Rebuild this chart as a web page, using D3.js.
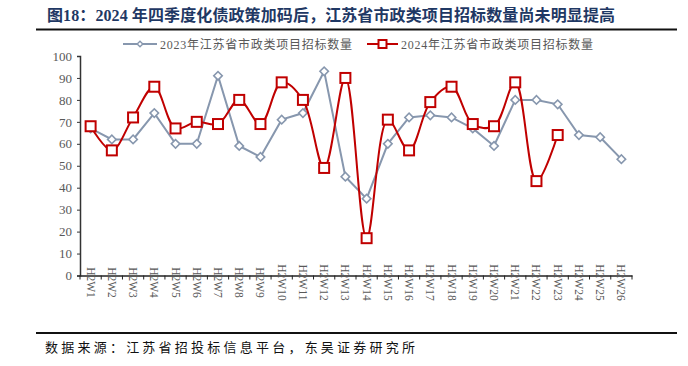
<!DOCTYPE html>
<html>
<head>
<meta charset="utf-8">
<script src="https://cdn.jsdelivr.net/npm/d3@7"></script>
<style>
  html, body { margin: 0; padding: 0; background: #fff; }
  svg { display: block; }
  .cjk { font-family: "Liberation Serif", "Noto Sans CJK SC", serif; }
</style>
</head>
<body>
<div id="chart"></div>
<script>
// Weekly counts
const weeks = ["H2W1", "H2W2", "H2W3", "H2W4", "H2W5", "H2W6", "H2W7", "H2W8", "H2W9",
  "H2W10", "H2W11", "H2W12", "H2W13", "H2W14", "H2W15", "H2W16", "H2W17", "H2W18",
  "H2W19", "H2W20", "H2W21", "H2W22", "H2W23", "H2W24", "H2W25", "H2W26"];
const values2023 = [67, 62, 62, 74, 60, 60, 91, 59, 54, 71, 74, 93, 45, 35, 60, 72, 73, 72, 67, 59, 80, 80, 78, 64, 63, 53];
const values2024 = [68, 57, 72, 86, 67, 70, 69, 80, 69, 88, 80, 49, 90, 17, 71, 57, 79, 86, 69, 68, 88, 43, 64];
const yTicks = [0, 10, 20, 30, 40, 50, 60, 70, 80, 90, 100];
const seriesNames = ["2023年江苏省市政类项目招标数量", "2024年江苏省市政类项目招标数量"];
const titleText = "图18：2024 年四季度化债政策加码后，江苏省市政类项目招标数量尚未明显提高";
const sourceText = "数据来源：江苏省招投标信息平台，东吴证券研究所";

const W = 688, H = 366;
const grey = "#8797AE", red = "#C00000", labelColor = "#595959";

const svg = d3.select("#chart").append("svg")
  .attr("width", W).attr("height", H);

// Title and rules
svg.append("text")
  .attr("class", "cjk")
  .attr("x", 47).attr("y", 21)
  .attr("font-size", 16).attr("font-weight", "bold")
  .attr("fill", "#1F3864")
  .attr("textLength", 568).attr("lengthAdjust", "spacing")
  .text(titleText);

svg.append("line").attr("x1", 36).attr("x2", 677).attr("y1", 29.5).attr("y2", 29.5)
  .attr("stroke", "#111").attr("stroke-width", 2);
svg.append("line").attr("x1", 36).attr("x2", 677).attr("y1", 333).attr("y2", 333)
  .attr("stroke", "#111").attr("stroke-width", 2);

svg.append("text")
  .attr("class", "cjk")
  .attr("x", 45).attr("y", 352)
  .attr("font-size", 13).attr("fill", "#111")
  .attr("textLength", 370).attr("lengthAdjust", "spacing")
  .text(sourceText);

// Scales
const x = d3.scaleBand().domain(weeks).range([80, 632]);
const y = d3.scaleLinear().domain([0, 100]).range([275.5, 56]);
const cx = (d, i) => x(weeks[i]) + x.bandwidth() / 2;

// Y axis
const yAxis = svg.append("g")
  .attr("transform", "translate(80,0)")
  .call(d3.axisLeft(y).tickValues(yTicks).tickSize(3).tickPadding(5));
yAxis.select(".domain").attr("stroke", "#333").attr("stroke-width", 1.5);
yAxis.selectAll(".tick line").attr("stroke", "#333");
yAxis.selectAll(".tick text")
  .attr("fill", labelColor)
  .attr("font-family", "Liberation Serif, serif")
  .attr("font-size", 13);

// X axis: ticks on band edges
const xAxis = svg.append("g")
  .attr("transform", `translate(0,${y(0)})`)
  .call(d3.axisBottom(x).tickSize(0).tickFormat(""));
xAxis.select(".domain").attr("stroke", "#222").attr("stroke-width", 1.5);
xAxis.selectAll(".edge")
  .data(d3.range(weeks.length + 1))
  .enter().append("line")
  .attr("x1", (i) => 80 + i * x.step())
  .attr("x2", (i) => 80 + i * x.step())
  .attr("y1", 0).attr("y2", 4)
  .attr("stroke", "#222");
xAxis.selectAll(".wk")
  .data(weeks)
  .enter().append("text")
  .attr("transform", (d) => `translate(${x(d) + x.bandwidth() / 2 - 4},7) rotate(90)`)
  .attr("font-family", "Liberation Serif, serif")
  .attr("font-size", 11.5)
  .attr("fill", labelColor)
  .text((d) => d);

// 2023 series: straight grey line with diamonds
svg.append("path")
  .datum(values2023)
  .attr("fill", "none").attr("stroke", grey).attr("stroke-width", 2)
  .attr("d", d3.line().x(cx).y((d) => y(d)));

const diamond = d3.symbol().type(d3.symbolSquare).size(36);
svg.selectAll(".m23")
  .data(values2023)
  .enter().append("path")
  .attr("d", diamond)
  .attr("transform", (d, i) => `translate(${cx(d, i)},${y(d)}) rotate(45)`)
  .attr("fill", "#fff").attr("stroke", grey).attr("stroke-width", 1.6);

// 2024 series: smoothed red line with squares
svg.append("path")
  .datum(values2024)
  .attr("fill", "none").attr("stroke", red).attr("stroke-width", 2)
  .attr("d", d3.line().x(cx).y((d) => y(d)).curve(d3.curveCatmullRom.alpha(0.5)));

svg.selectAll(".m24")
  .data(values2024)
  .enter().append("rect")
  .attr("x", (d, i) => cx(d, i) - 5)
  .attr("y", (d) => y(d) - 5)
  .attr("width", 10).attr("height", 10)
  .attr("fill", "#fff").attr("stroke", red).attr("stroke-width", 2);

// Legend
const legend = [
  { name: seriesNames[0], x0: 123, x1: 157, color: grey, marker: "diamond" },
  { name: seriesNames[1], x0: 367, x1: 398, color: red, marker: "square" },
];
legend.forEach((l) => {
  const g = svg.append("g");
  g.append("line").attr("x1", l.x0).attr("x2", l.x1).attr("y1", 44).attr("y2", 44)
    .attr("stroke", l.color).attr("stroke-width", 2);
  const mx = (l.x0 + l.x1) / 2;
  if (l.marker === "diamond") {
    g.append("path").attr("d", d3.symbol().type(d3.symbolSquare).size(16))
      .attr("transform", `translate(${mx},44) rotate(45)`)
      .attr("fill", "#fff").attr("stroke", l.color).attr("stroke-width", 1.4);
  } else {
    g.append("rect").attr("x", mx - 4).attr("y", 40).attr("width", 8).attr("height", 8)
      .attr("fill", "#fff").attr("stroke", l.color).attr("stroke-width", 2);
  }
  g.append("text")
    .attr("class", "cjk")
    .attr("x", l.x1 + 3).attr("y", 48.5)
    .attr("font-size", 12).attr("fill", labelColor)
    .attr("textLength", 192).attr("lengthAdjust", "spacing")
    .text(l.name);
});
</script>
</body>
</html>
